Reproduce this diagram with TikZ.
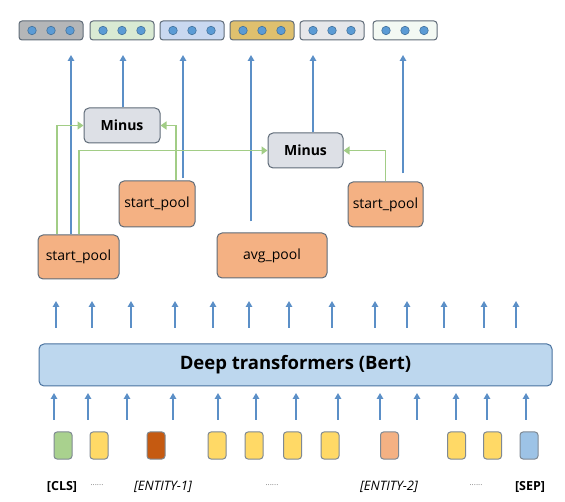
\documentclass[tikz,border=0pt]{standalone}
\usepackage{fontspec}
\setmainfont{Open Sans}
\usetikzlibrary{arrows.meta}
\definecolor{arrblue}{HTML}{5B8FC7}
\definecolor{grn}{HTML}{A2CD86}
\definecolor{orng}{HTML}{F4B183}
\definecolor{minusg}{HTML}{DDE0E6}
\definecolor{bertb}{HTML}{BDD7EE}
\definecolor{bord}{HTML}{5F6B78}
\definecolor{dotb}{HTML}{5B9BD5}
\definecolor{dotbd}{HTML}{41719C}
\definecolor{tokyel}{HTML}{FFD966}
\definecolor{tokgrn}{HTML}{A9D18E}
\definecolor{tokdk}{HTML}{C55A11}
\definecolor{toksal}{HTML}{F4B183}
\definecolor{tokblu}{HTML}{9DC3E6}
\definecolor{v1}{HTML}{B4B6B8}
\definecolor{v2}{HTML}{D9EAD3}
\definecolor{v3}{HTML}{C9D8F0}
\definecolor{v4}{HTML}{DFC06E}
\definecolor{v5}{HTML}{E6E7EA}
\definecolor{v6}{HTML}{F3F9F3}
\tikzset{
  blarrow/.style={draw=arrblue, line width=1.4pt, -{Triangle[width=6.5pt,length=6pt]}},
  grarrow/.style={draw=grn, line width=1.8pt, -{Triangle[width=8pt,length=6pt]}},
  poolbox/.style={draw=bord, line width=1pt, fill=orng, rounded corners=5pt, inner sep=0pt, font=\fontsize{14}{16}\selectfont},
  minusbox/.style={draw=bord, line width=1pt, fill=minusg, rounded corners=5pt, inner sep=0pt, minimum width=76pt, minimum height=35pt, font=\fontsize{14}{16}\selectfont\bfseries},
  vecbox/.style={draw=bord, line width=1pt, rounded corners=3pt, minimum width=64pt, minimum height=19pt, inner sep=0pt},
  vdot/.style={circle, draw=dotbd, fill=dotb, line width=0.6pt, minimum size=8.5pt, inner sep=0pt},
  tok/.style={draw=bord!80, line width=1pt, rounded corners=3pt, minimum width=18pt, minimum height=27pt, inner sep=0pt},
  toklab/.style={font=\fontsize{12.5}{14}\selectfont\bfseries, inner sep=0pt},
  tokit/.style={font=\fontsize{13}{15}\selectfont\itshape, inner sep=0pt},
  dotlab/.style={font=\fontsize{8}{9}\selectfont, text=gray, inner sep=0pt}
}
\begin{document}
\begin{tikzpicture}[x=1pt,y=-1pt]
\useasboundingbox (0,0) rectangle (565,502);
% output vectors
\foreach \i/\x/\c in {1/51/v1,2/122/v2,3/192/v3,4/262/v4,5/332/v5,6/405/v6}{
  \node[vecbox, fill=\c] (o\i) at (\x,30.5) {};
  \node[vdot] (o\i a) at (\x-19,30.5) {};
  \node[vdot] (o\i b) at (\x,30.5) {};
  \node[vdot] (o\i c) at (\x+19,30.5) {};
}
\coordinate (t1) at (71,55);
\coordinate (t2) at (123,55);
\coordinate (t3) at (183,55);
\coordinate (t4) at (251,55);
\coordinate (t5) at (313,55);
\coordinate (t6) at (403,55);
% middle nodes
\node[poolbox, minimum width=81pt, minimum height=44pt] (sp1) at (78.5,257) {start\_pool};
\node[poolbox, minimum width=76pt, minimum height=46pt] (sp2) at (157,204) {start\_pool};
\node[poolbox, minimum width=110pt, minimum height=45pt] (avg) at (272,255.5) {avg\_pool};
\node[poolbox, minimum width=75pt, minimum height=45pt] (sp3) at (385.5,204.5) {start\_pool};
\node[minusbox] (m1) at (122,125.5) {Minus};
\node[minusbox, minimum width=75pt] (m2) at (305.5,150.5) {Minus};
% blue up arrows to outputs
\draw[blarrow] (sp1.north -| t1) -- (t1);
\draw[blarrow] (m1.north -| t2) -- (t2);
\draw[blarrow, shorten <=2pt] (sp2.north -| t3) -- (t3);
\draw[blarrow, shorten <=11pt] (avg.north -| t4) -- (t4);
\draw[blarrow] (m2.north -| t5) -- (t5);
\draw[blarrow, shorten <=8pt] (sp3.north -| t6) -- (t6);
% green connectors
\draw[grarrow] ([xshift=-21.5pt]sp1.north) |- (m1.west);
\draw[grarrow] ([xshift=0.5pt]sp1.north) |- (m2.west);
\draw[grarrow] ([xshift=19pt]sp2.north) |- (m1.east);
\draw[grarrow] (sp3.north) |- (m2.east);
% Bert
\node[draw=arrblue!80!black, line width=1pt, fill=bertb, rounded corners=5pt, minimum width=513pt, minimum height=42pt, inner sep=0pt, font=\fontsize{18.5}{21}\selectfont\bfseries] (bert) at (295.5,365) {Deep transformers (Bert)};
% arrows above Bert
\foreach \x [count=\k] in {56,92,131,175,213,249,289,332,375,407,444,484,516}{
  \coordinate (ua\k) at (\x,328);
  \coordinate (ub\k) at (\x,301);
  \draw[blarrow] (ua\k) -- (ub\k);
}
% arrows below Bert
\foreach \x [count=\k] in {54,88,127,173,218,256,296,338,380,417,456,487,526}{
  \coordinate (la\k) at (\x,420);
  \coordinate (lb\k) at (\x,393);
  \draw[blarrow] (la\k) -- (lb\k);
}
% tokens
\foreach \x/\c [count=\k] in {63/tokgrn,99/tokyel,156/tokdk,217/tokyel,254/tokyel,292.5/tokyel,330/tokyel,389.5/toksal,456.5/tokyel,492.5/tokyel,529/tokblu}{
  \node[tok, fill=\c] (tk\k) at (\x,445.5) {};
}
% labels
\node[toklab] (lcls) at (62,487) {[CLS]};
\node[dotlab] (ld1) at (97,485) {......};
\node[tokit] (le1) at (163,487) {[ENTITY-1]};
\node[dotlab] (ld2) at (272,485) {......};
\node[tokit] (le2) at (389,487) {[ENTITY-2]};
\node[dotlab] (ld3) at (476,485) {......};
\node[toklab] (lsep) at (530,487) {[SEP]};
\end{tikzpicture}
\end{document}
